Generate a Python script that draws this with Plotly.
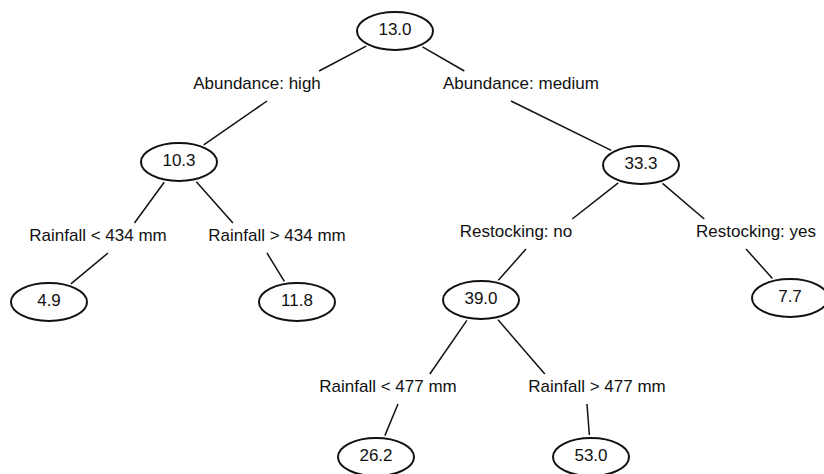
import plotly.graph_objects as go

# ---- data: regression tree ----
node_values = [13.0, 10.3, 33.3, 4.9, 11.8, 39.0, 7.7, 26.2, 53.0]
node_parent = [None, 0, 0, 1, 1, 2, 2, 5, 5]
split_labels = [None, "Abundance: high", "Abundance: medium",
                "Rainfall < 434 mm", "Rainfall > 434 mm",
                "Restocking: no", "Restocking: yes",
                "Rainfall < 477 mm", "Rainfall > 477 mm"]

# ---- layout (pixel-like canvas coordinates) ----
node_x = [395, 179, 641, 49, 297, 481, 790, 376, 591]
node_y = [31, 162, 165, 302, 302, 300, 298, 457, 457]
label_x = [None, 257, 521, 98, 277, 516, 756, 388, 597]
label_y = [None, 85, 85, 237, 237, 233, 233, 388, 388]
RX, RY = 38, 19
W, H = 824, 474
INK = "#111111"
FONT = dict(family="Liberation Sans, Arial, sans-serif", size=17, color=INK)


def on_ellipse(cx, cy, tx, ty, gap=2):
    dx, dy = tx - cx, ty - cy
    t = 1.0 / ((dx / RX) ** 2 + (dy / RY) ** 2) ** 0.5
    d = (dx * dx + dy * dy) ** 0.5
    t += gap / d
    return cx + dx * t, cy + dy * t


fig = go.Figure()
line_x, line_y = [], []
for i, p in enumerate(node_parent):
    if p is None:
        continue
    px, py = node_x[p], node_y[p]
    lx, ly = label_x[i], label_y[i]
    cx, cy = node_x[i], node_y[i]
    side = 1 if cx > px else -1
    # parent -> split label
    ex, ey = lx + 0.45 * (px - lx), ly - 14
    sx, sy = on_ellipse(px, py, ex, ey, gap=3)
    line_x += [sx, ex, None]
    line_y += [sy, ey, None]
    # split label -> child
    s2x, s2y = lx - side * 10, ly + 16
    tx, ty = on_ellipse(cx, cy, s2x, s2y, gap=3)
    line_x += [s2x, tx, None]
    line_y += [s2y, ty, None]

fig.add_trace(go.Scatter(x=line_x, y=line_y, mode="lines",
                         line=dict(color=INK, width=1.5),
                         hoverinfo="skip", showlegend=False))

for cx, cy in zip(node_x, node_y):
    fig.add_shape(type="circle", xref="x", yref="y",
                  x0=cx - RX, x1=cx + RX, y0=cy - RY, y1=cy + RY,
                  line=dict(color=INK, width=2), layer="below")

fig.add_trace(go.Scatter(x=node_x, y=node_y, mode="text",
                         text=[f"{v:.1f}" for v in node_values],
                         textfont=FONT, textposition="middle center",
                         cliponaxis=False,
                         hoverinfo="skip", showlegend=False))

lx_ = [x for x in label_x if x is not None]
ly_ = [y for y in label_y if y is not None]
lt_ = [t for t in split_labels if t is not None]
fig.add_trace(go.Scatter(x=lx_, y=ly_, mode="text", text=lt_,
                         textfont=FONT, textposition="middle center",
                         cliponaxis=False,
                         hoverinfo="skip", showlegend=False))

fig.update_layout(
    width=W, height=H,
    margin=dict(l=0, r=0, t=0, b=0),
    paper_bgcolor="white", plot_bgcolor="white",
    xaxis=dict(range=[0, W], visible=False, fixedrange=True),
    yaxis=dict(range=[H, 0], visible=False, fixedrange=True),
)
fig.write_html(
    "out.html",
    config={"displayModeBar": False},
    post_script="document.body.style.margin='0';"
                "document.body.style.overflow='hidden';"
                "document.documentElement.style.overflow='hidden';",
)
